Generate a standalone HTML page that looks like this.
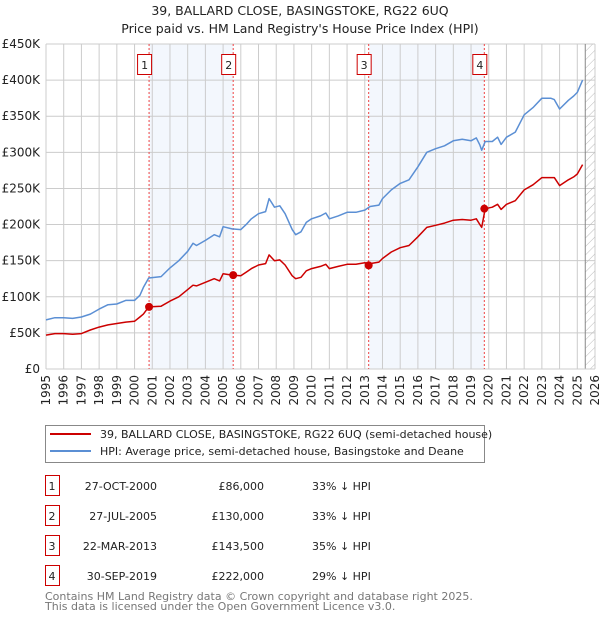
<!DOCTYPE html>
<html><head><meta charset="utf-8"><style>
body{margin:0;background:#fff;font-family:"DejaVu Sans","Liberation Sans",sans-serif;}
svg text{font-family:"DejaVu Sans","Liberation Sans",sans-serif;}
</style></head><body>
<svg id="chart" width="600" height="620" xmlns="http://www.w3.org/2000/svg">
<text x="300" y="15" font-size="12.5" text-anchor="middle" fill="#222">39, BALLARD CLOSE, BASINGSTOKE, RG22 6UQ</text>
<text x="300" y="33" font-size="12.5" text-anchor="middle" fill="#222">Price paid vs. HM Land Registry's House Price Index (HPI)</text>
<g id="plot"></g>
<g>
<rect x="45.5" y="425.5" width="439" height="37" fill="#fff" stroke="#888"/>
<line x1="50" y1="434" x2="91" y2="434" stroke="#cc0000" stroke-width="2"/>
<text x="100" y="438" font-size="11" fill="#222">39, BALLARD CLOSE, BASINGSTOKE, RG22 6UQ (semi-detached house)</text>
<line x1="50" y1="451" x2="91" y2="451" stroke="#5b8fd4" stroke-width="2"/>
<text x="100" y="455" font-size="11" fill="#222">HPI: Average price, semi-detached house, Basingstoke and Deane</text>
</g>
<g id="table"></g>
<text x="45" y="600" font-size="11" fill="#777">Contains HM Land Registry data © Crown copyright and database right 2025.</text>
<text x="45" y="610" font-size="11" fill="#777">This data is licensed under the Open Government Licence v3.0.</text>
</svg>
<script>
const hpiYears=[1995,1995.5,1996,1996.5,1997,1997.5,1998,1998.5,1999,1999.5,2000,2000.3,2000.5,2000.8,2001.5,2002,2002.5,2003,2003.3,2003.5,2004,2004.5,2004.8,2005,2005.5,2006,2006.3,2006.6,2007,2007.4,2007.6,2007.9,2008.2,2008.5,2008.9,2009.1,2009.4,2009.7,2010,2010.5,2010.8,2011,2011.5,2012,2012.5,2013,2013.3,2013.8,2014,2014.5,2015,2015.5,2016,2016.5,2017,2017.5,2018,2018.5,2019,2019.3,2019.5,2019.6,2019.8,2020.2,2020.5,2020.7,2021,2021.5,2022,2022.5,2023,2023.5,2023.7,2024,2024.5,2024.8,2025,2025.3];
const hpiValues=[68,71,71,70,72,76,83,89,90,95,95,102,113,126,128,140,150,163,174,171,178,186,183,197,194,193,200,208,215,218,236,224,226,215,193,186,190,203,208,212,216,208,212,217,217,220,225,227,236,248,257,262,280,300,305,309,316,318,316,320,310,303,315,315,321,311,321,328,352,362,375,375,373,360,372,378,383,400];
const priceValues=[47,49,49,48,49,54,58,61,63,65,66,72,76,86,87,94,100,110,116,115,120,125,122,132,130,129,134,139,144,146,158,150,151,144,129,125,127,136,139,142,145,139,142,145,145,147,146,148,153,162,168,171,183,196,199,202,206,207,206,208,200,196,222,224,228,221,228,233,248,255,265,265,265,254,262,266,270,283];
const saleYears=[2000.82,2005.57,2013.22,2019.75];
const salePrices=[86,130,143.5,222];
const saleDates=["27-OCT-2000","27-JUL-2005","22-MAR-2013","30-SEP-2019"];
const salePriceLabels=["£86,000","£130,000","£143,500","£222,000"];
const saleDiffs=["33% ↓ HPI","33% ↓ HPI","35% ↓ HPI","29% ↓ HPI"];
const yTicks=[0,50,100,150,200,250,300,350,400,450];
const yTickLabels=["£0","£50K","£100K","£150K","£200K","£250K","£300K","£350K","£400K","£450K"];
const xTicks=[1995,1996,1997,1998,1999,2000,2001,2002,2003,2004,2005,2006,2007,2008,2009,2010,2011,2012,2013,2014,2015,2016,2017,2018,2019,2020,2021,2022,2023,2024,2025,2026];

const NS="http://www.w3.org/2000/svg";
const L=46,R=595,T=44,B=369;
const xs=y=>L+(y-1995)/(2026-1995)*(R-L);
const ys=v=>B-v/450*(B-T);
const g=document.getElementById('plot');
function mk(tag,attrs,parent){const e=document.createElementNS(NS,tag);for(const k in attrs)e.setAttribute(k,attrs[k]);(parent||g).appendChild(e);return e;}

for(const [a,b] of [[0,1],[2,3]]){
 const r=mk('rect',{x:xs(saleYears[a]),y:T,width:xs(saleYears[b])-xs(saleYears[a]),height:B-T,fill:'#eef3fc',opacity:0.7});
 
 
}
yTicks.forEach((v,i)=>{
 const l=mk('line',{x1:L,x2:R,y1:ys(v),y2:ys(v),stroke:'#cccccc','stroke-width':1});
 
 
 const t=mk('text',{x:40,y:ys(v)+4,'font-size':12,'text-anchor':'end',fill:'#222'});
 t.textContent=yTickLabels[i];
 
 
});
xTicks.forEach(yr=>{
 const l=mk('line',{x1:xs(yr),x2:xs(yr),y1:T,y2:B,stroke:'#cccccc','stroke-width':1});
 
 
 const t=mk('text',{x:0,y:0,'font-size':12,'text-anchor':'end',fill:'#222',transform:`translate(${xs(yr)+4},${B+6}) rotate(-90)`});
 t.textContent=yr;
 
 
});
const defs=mk('defs',{});
const pat=mk('pattern',{id:'hatch',width:6,height:6,patternUnits:'userSpaceOnUse',patternTransform:'rotate(45)'},defs);
mk('line',{x1:0,y1:0,x2:0,y2:6,stroke:'#bbb','stroke-width':1},pat);
const hx=xs(2025.45);
const hr=mk('rect',{x:hx,y:T,width:R-hx,height:B-T,fill:'url(#hatch)'});


mk('line',{x1:hx,x2:hx,y1:T,y2:B,stroke:'#888','stroke-width':1});
mk('line',{x1:L,x2:L,y1:T,y2:B,stroke:'#ccc'});
mk('line',{x1:L,x2:R,y1:B,y2:B,stroke:'#ccc'});
saleYears.forEach((s,i)=>{
 const l=mk('line',{x1:xs(s),x2:xs(s),y1:T,y2:B,stroke:'#ee4444','stroke-width':1,'stroke-dasharray':'2,2'});
 
 
 const bx=mk('rect',{x:xs(s)-11.5,y:54.5,width:14,height:20,fill:'#fff',stroke:'#cc0000'});
 
 
 const t=mk('text',{x:xs(s)-4.5,y:69,'font-size':11,'text-anchor':'middle',fill:'#222'});
 t.textContent=i+1;
 
 
});
function path(vals,color,name){
 const d=hpiYears.map((y,i)=>(i?'L':'M')+xs(y).toFixed(1)+','+ys(vals[i]).toFixed(1)).join('');
 const p=mk('path',{d:d,fill:'none',stroke:color,'stroke-width':1.5,'stroke-linejoin':'round'});
 
 
}
path(hpiValues,'#5b8fd4','hpi-line');
path(priceValues,'#cc0000','price-line');
saleYears.forEach((s,i)=>{
 const c=mk('circle',{cx:xs(s),cy:ys(salePrices[i]),r:4,fill:'#cc0000'});
 
 
});
const tb=document.getElementById('table');
saleDates.forEach((d,i)=>{
 const y=489+i*30;
 const r=mk('rect',{x:45.5,y:y-13.5,width:14,height:20,fill:'#fff',stroke:'#cc0000'},tb);
 
 
 const cells=[[52,String(i+1),'middle'],[157,d,'end'],[264,salePriceLabels[i],'end'],[312,saleDiffs[i],'start']];
 cells.forEach(([x,txt,a])=>{
  const t=mk('text',{x:x,y:y+1,'font-size':11,'text-anchor':a,fill:'#222'},tb);
  t.textContent=txt;
  
  
 });
});
</script>
</body></html>
